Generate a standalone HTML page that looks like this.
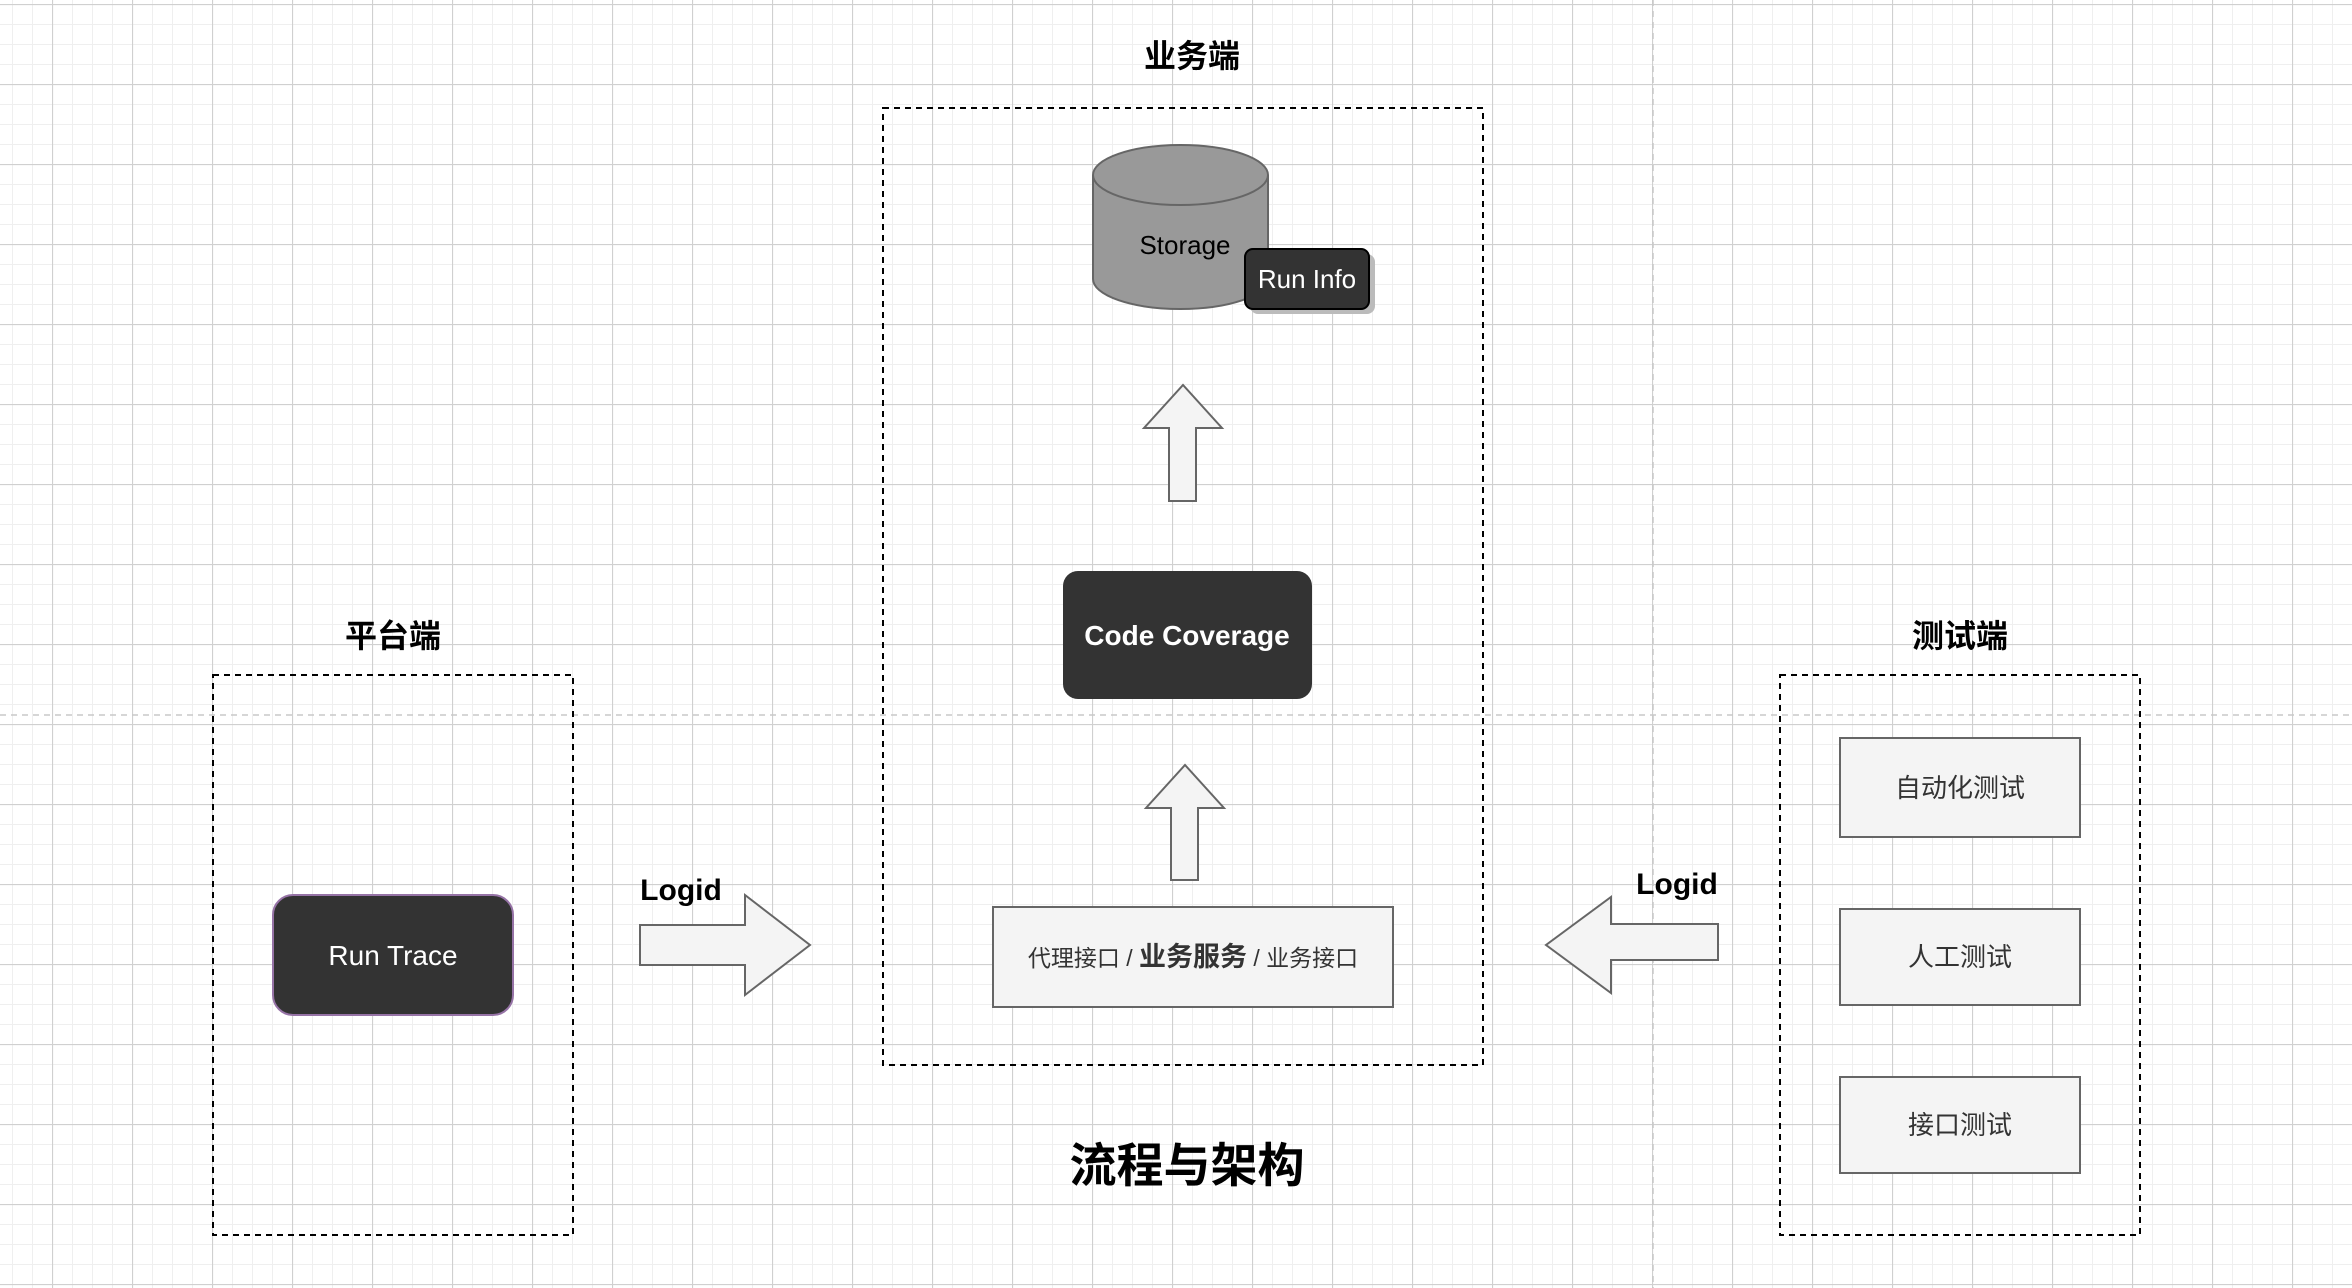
<!DOCTYPE html>
<html><head><meta charset="utf-8"><style>
html,body{margin:0;padding:0;background:#fff}
svg{display:block}
text{font-family:"Liberation Sans","Noto Sans CJK SC",sans-serif}
</style></head><body>
<svg width="2352" height="1288" viewBox="0 0 2352 1288" xmlns="http://www.w3.org/2000/svg">
<defs>
<pattern id="minor" x="12" y="4" width="20" height="20" patternUnits="userSpaceOnUse">
<path d="M0 0H20M0 0V20" stroke="#efefef" stroke-width="2" fill="none"/>
</pattern>
<pattern id="major" x="52" y="4" width="80" height="80" patternUnits="userSpaceOnUse">
<path d="M0 0.5H80M0.5 0V80" stroke="#d0d0d0" stroke-width="1.2" fill="none"/>
</pattern>
</defs>
<rect width="2352" height="1288" fill="#fff"/>
<rect width="2352" height="1288" fill="url(#minor)"/>
<rect width="2352" height="1288" fill="url(#major)"/>
<line x1="0" y1="715" x2="2352" y2="715" stroke="#c8c8c8" stroke-width="1.5" stroke-dasharray="6 5"/>
<line x1="1653" y1="0" x2="1653" y2="1288" stroke="#c8c8c8" stroke-width="1.5" stroke-dasharray="6 5"/>

<!-- containers -->
<rect x="883" y="108" width="600" height="957" fill="none" stroke="#000" stroke-width="2" stroke-dasharray="6 5"/>
<rect x="213" y="675" width="360" height="560" fill="none" stroke="#000" stroke-width="2" stroke-dasharray="6 5"/>
<rect x="1780" y="675" width="360" height="560" fill="none" stroke="#000" stroke-width="2" stroke-dasharray="6 5"/>

<text x="1192" y="67" font-size="32" font-weight="bold" text-anchor="middle">业务端</text>
<text x="393" y="647" font-size="32" font-weight="bold" text-anchor="middle">平台端</text>
<text x="1960" y="647" font-size="32" font-weight="bold" text-anchor="middle">测试端</text>

<!-- cylinder -->
<path d="M1093 175 V279 A87.5 30 0 0 0 1268 279 V175" fill="#999" stroke="#666" stroke-width="2"/>
<ellipse cx="1180.5" cy="175" rx="87.5" ry="30" fill="#999" stroke="#666" stroke-width="2"/>
<text x="1185" y="254" font-size="26" text-anchor="middle" fill="#000">Storage</text>
<rect x="1250" y="254" width="125" height="60" rx="8" fill="#bbb"/>
<rect x="1245" y="249" width="124" height="60" rx="8" fill="#333" stroke="#000" stroke-width="2"/>
<text x="1307" y="288" font-size="26" text-anchor="middle" fill="#fff">Run Info</text>

<!-- up arrows -->
<path d="M1169 501 V428 H1144 L1183 385 L1222 428 H1196 V501 Z" fill="#f4f4f4" stroke="#666" stroke-width="2"/>
<path d="M1171 880 V808 H1146 L1185 765 L1224 808 H1198 V880 Z" fill="#f4f4f4" stroke="#666" stroke-width="2"/>

<rect x="1063" y="571" width="249" height="128" rx="15" fill="#333"/>
<text x="1187" y="645" font-size="28" font-weight="bold" text-anchor="middle" fill="#fff">Code Coverage</text>

<rect x="993" y="907" width="400" height="100" fill="#f4f4f4" stroke="#666" stroke-width="2"/>
<text x="1193" y="966" text-anchor="middle" fill="#333" font-size="23">代理接口 / <tspan font-size="27" font-weight="bold">业务服务</tspan> / 业务接口</text>

<!-- left Logid arrow -->
<text x="681" y="900" font-size="30" font-weight="bold" text-anchor="middle">Logid</text>
<path d="M640 925 H745 V895 L810 945 L745 995 V965 H640 Z" fill="#f4f4f4" stroke="#666" stroke-width="2"/>
<!-- right Logid arrow -->
<text x="1677" y="894" font-size="30" font-weight="bold" text-anchor="middle">Logid</text>
<path d="M1718 924 H1611 V897 L1546 945 L1611 993 V960 H1718 Z" fill="#f4f4f4" stroke="#666" stroke-width="2"/>

<rect x="273" y="895" width="240" height="120" rx="20" fill="#333" stroke="#9673a6" stroke-width="2"/>
<text x="393" y="965" font-size="28" text-anchor="middle" fill="#fff">Run Trace</text>

<rect x="1840" y="738" width="240" height="99" fill="#f4f4f4" stroke="#666" stroke-width="2"/>
<text x="1960" y="797" font-size="26" text-anchor="middle" fill="#333">自动化测试</text>
<rect x="1840" y="909" width="240" height="96" fill="#f4f4f4" stroke="#666" stroke-width="2"/>
<text x="1960" y="966" font-size="26" text-anchor="middle" fill="#333">人工测试</text>
<rect x="1840" y="1077" width="240" height="96" fill="#f4f4f4" stroke="#666" stroke-width="2"/>
<text x="1960" y="1134" font-size="26" text-anchor="middle" fill="#333">接口测试</text>

<text x="1187" y="1182" font-size="47" font-weight="bold" text-anchor="middle">流程与架构</text>
</svg>
</body></html>
